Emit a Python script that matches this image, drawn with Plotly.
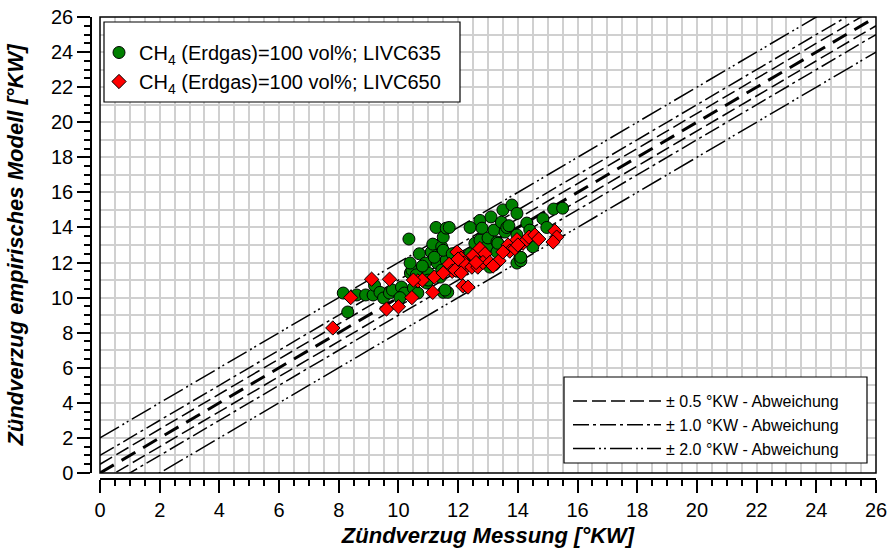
import plotly.graph_objects as go

# ---------------- data ----------------
livc635_x = [8.15, 8.3, 8.6, 8.9, 9.15, 9.2, 9.38, 9.5, 9.7, 9.8, 10.1, 10.2, 10.05, 10.35,
             10.4, 10.45, 10.39, 10.5, 10.65, 10.7, 10.9, 10.95, 11.0, 11.1, 11.15, 11.26,
             11.3, 11.4, 11.45, 11.5, 11.5, 11.55, 11.6, 11.65, 11.45, 11.6, 11.5, 11.7,
             11.56, 12.16, 12.4, 12.4, 12.56, 12.56, 12.73, 12.73, 12.8, 12.96, 12.73, 13.0,
             13.06, 13.1, 13.2, 13.2, 13.3, 13.3, 13.33, 13.45, 13.5, 13.57, 13.63, 13.7,
             13.8, 13.97, 13.97, 13.97, 14.07, 14.1, 14.1, 14.3, 14.4, 14.4, 14.5, 14.84,
             14.97, 15.2, 15.5, 10.6, 10.8, 11.9, 12.0, 11.8, 12.2, 11.0, 11.2]
livc635_y = [10.26, 9.18, 10.15, 10.15, 10.15, 10.7, 10.3, 9.98, 10.26, 10.43, 10.6, 10.26, 10.0, 13.34,
             11.4, 11.57, 11.97, 10.55, 10.26, 12.5, 11.97, 10.83, 11.4, 12.6, 13.05, 14.0,
             11.97, 11.17, 12.9, 13.45, 10.3, 11.57, 13.96, 10.3, 11.57, 12.14, 12.7, 14.0,
             10.43, 12.1, 12.5, 14.0, 13.1, 12.14, 14.4, 13.28, 13.96, 12.9, 12.3, 13.4,
             11.74, 14.6, 13.85, 11.86, 13.17, 12.6, 13.1, 14.3, 15.0, 13.74, 14.0, 14.1,
             15.28, 14.8, 13.57, 11.97, 12.3, 12.1, 12.3, 14.25, 13.85, 13.28, 12.9, 14.5,
             14.0, 15.05, 15.1, 11.3, 11.8, 11.8, 11.5, 12.5, 12.0, 11.0, 12.3]

livc650_x = [7.8, 8.4, 9.1, 9.7, 9.6, 10.0, 10.45, 10.65, 10.8, 11.2, 11.15, 11.7, 11.8,
             11.96, 12.1, 12.06, 12.16, 12.33, 12.3, 12.2, 11.9, 12.1, 12.5, 12.73, 12.9,
             12.46, 12.66, 12.83, 13.06, 13.37, 13.17, 13.67, 13.73, 13.97, 13.97, 14.17,
             14.3, 14.37, 14.57, 14.7, 15.24, 15.3, 15.18, 13.9, 12.6, 13.5, 14.0, 12.0,
             11.5, 10.5]
livc650_y = [8.27, 10.0, 11.05, 11.05, 9.35, 9.48, 10.0, 10.95, 11.0, 11.17, 10.3, 11.9, 11.5,
             12.6, 12.25, 11.46, 10.66, 10.6, 11.8, 11.97, 11.57, 11.4, 12.4, 12.8, 12.5,
             11.74, 11.74, 12.0, 12.0, 12.1, 11.8, 13.0, 12.65, 13.3, 12.9, 13.1,
             13.3, 13.45, 13.57, 13.34, 13.8, 13.45, 13.17, 12.8, 12.0, 12.6, 13.0, 12.2,
             11.4, 11.0]

series_names = ["CH<sub>4</sub> (Erdgas)=100 vol%; LIVC635",
                "CH<sub>4</sub> (Erdgas)=100 vol%; LIVC650"]

deviations = [0.5, 1.0, 2.0]
deviation_labels = ["± 0.5 °KW - Abweichung",
                    "± 1.0 °KW - Abweichung",
                    "± 2.0 °KW - Abweichung"]

axis_range = [0, 26]
x_title = "Zündverzug Messung [°KW]"
y_title = "Zündverzug empirisches Modell [°KW]"

# ---------------- styling ----------------
FONT = "Liberation Sans, Arial, sans-serif"
W, H = 891, 554
ML, MR, MT, MB = 91, 15, 17, 75
plot_w = W - ML - MR
plot_h = H - MT - MB
x_dom0 = 9 / plot_w
y_dom0 = 6 / plot_h


def px_x(p):
    return (p - ML) / plot_w


def px_y(p):
    return (H - MB - p) / plot_h


dash_styles = ["14px,5px", "16px,4px,3px,4px", "22px,4px,2px,3px,2px,4px"]

fig = go.Figure()

lo, hi = axis_range
fig.add_trace(go.Scatter(
    x=[lo, hi], y=[lo, hi], mode="lines",
    line=dict(color="black", width=3, dash="16px,9px"),
    showlegend=False, hoverinfo="skip"))

for d, lab, dash in zip(deviations, deviation_labels, dash_styles):
    fig.add_trace(go.Scatter(
        x=[lo, hi, None, lo, hi],
        y=[lo + d, hi + d, None, lo - d, hi - d],
        mode="lines", name=lab, legend="legend2",
        line=dict(color="black", width=1.5, dash=dash),
        hoverinfo="skip"))

# markers live on the overlaying axis (identical range) so they draw above the lines
fig.add_trace(go.Scatter(
    x=livc635_x, y=livc635_y, mode="markers", name=series_names[0], yaxis="y2",
    marker=dict(symbol="circle", size=12, color="#008000",
                line=dict(color="black", width=1))))
fig.add_trace(go.Scatter(
    x=livc650_x, y=livc650_y, mode="markers", name=series_names[1], yaxis="y2",
    marker=dict(symbol="diamond", size=11, color="#ff0000",
                line=dict(color="black", width=1))))

grid_col = "#d0d0d0"
tickfont = dict(family=FONT, size=20, color="black")
title_font = dict(family=FONT, size=22, weight="bold", style="italic", color="black")

fig.update_layout(
    width=W, height=H,
    margin=dict(l=ML, r=MR, t=MT, b=MB, autoexpand=False),
    paper_bgcolor="white", plot_bgcolor="white",
    font=dict(family=FONT, color="black"),
    xaxis=dict(
        domain=[x_dom0, 1], range=axis_range, dtick=2, tick0=0,
        anchor="free", position=0,
        showline=True, linecolor="black", linewidth=1.5,
        ticks="outside", ticklen=13, tickwidth=1.5, tickcolor="black",
        showgrid=True, gridcolor=grid_col, gridwidth=1.5, zeroline=False,
        minor=dict(dtick=0.5, tick0=0, ticks="outside", ticklen=6, tickwidth=1.5,
                   tickcolor="black", showgrid=True, gridcolor=grid_col, gridwidth=1.5),
        tickfont=tickfont,
        title=dict(text=x_title, standoff=7, font=title_font)),
    yaxis=dict(
        domain=[y_dom0, 1], range=axis_range, dtick=2, tick0=0,
        anchor="free", position=0,
        showline=True, linecolor="black", linewidth=1.5,
        ticks="outside", ticklen=13, tickwidth=1.5, tickcolor="black",
        showgrid=False, zeroline=False,
        minor=dict(dtick=0.5, tick0=0, ticks="outside", ticklen=6, tickwidth=1.5,
                   tickcolor="black", showgrid=False),
        tickfont=tickfont,
        title=dict(text=y_title, standoff=20, font=title_font)),
    yaxis2=dict(
        overlaying="y", range=axis_range, dtick=1, tick0=0,
        showgrid=True, gridcolor=grid_col, gridwidth=1.5,
        showticklabels=False, ticks="", showline=False, zeroline=False),
    legend=dict(x=px_x(99), y=px_y(33),
                xanchor="left", yanchor="top",
                bgcolor="rgba(0,0,0,0)", borderwidth=0,
                font=dict(family=FONT, size=20, color="black"),
                tracegroupgap=0),
    legend2=dict(x=px_x(568), y=px_y(384),
                 xanchor="left", yanchor="top",
                 bgcolor="rgba(0,0,0,0)", borderwidth=0,
                 itemwidth=88,
                 font=dict(family=FONT, size=16, color="black")),
    shapes=[
        dict(type="rect", xref="x domain", yref="y domain",
             x0=0, x1=1, y0=0, y1=1, line=dict(color="black", width=1.5),
             layer="above"),
        dict(type="rect", xref="paper", yref="paper",
             x0=px_x(104), x1=px_x(460), y0=px_y(102), y1=px_y(22),
             fillcolor="white", line=dict(color="black", width=1.2), layer="above"),
        dict(type="rect", xref="paper", yref="paper",
             x0=px_x(564), x1=px_x(867), y0=px_y(463), y1=px_y(377),
             fillcolor="white", line=dict(color="black", width=1.2), layer="above"),
    ],
)

fig.write_html("out.html")
